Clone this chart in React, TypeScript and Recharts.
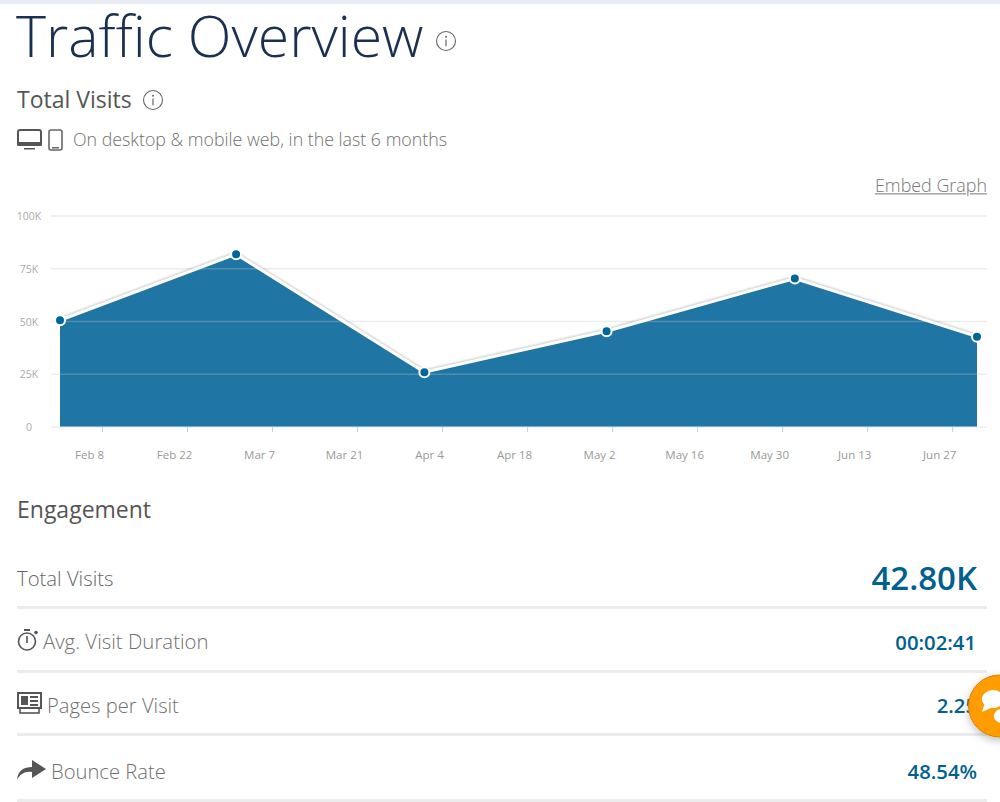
import React from "react";
import { ComposedChart, Area, Line, XAxis, YAxis, ReferenceLine } from "recharts";

const monthDays = [0, 29, 60, 90, 121, 151];
const visits = [50600, 81900, 26000, 45400, 70400, 42800];
const tickDays = [7, 21, 35, 49, 63, 77, 91, 105, 119, 133, 147];
const tickLabels = ["Feb 8", "Feb 22", "Mar 7", "Mar 21", "Apr 4", "Apr 18", "May 2", "May 16", "May 30", "Jun 13", "Jun 27"];
const yTicks = [0, 25000, 50000, 75000, 100000];
const yLabels = ["0", "25K", "50K", "75K", "100K"];

const rows = monthDays.map((day, i) => ({ day, visits: visits[i] }));
const FONT = '"Open Sans", sans-serif';

const XTick = (p: any) => {
  const i = tickDays.indexOf(p.payload.value);
  return (
    <text x={p.x - 13} y={p.y + 25} textAnchor="middle" fontFamily={FONT} fontSize={11.5} fill="#999">
      {tickLabels[i]}
    </text>
  );
};
const YTick = (p: any) => {
  const i = yTicks.indexOf(p.payload.value);
  return (
    <text x={29} y={p.y + 4} textAnchor="middle" fontFamily={FONT} fontSize={10.5} fill="#aaa">
      {yLabels[i]}
    </text>
  );
};

const T = ({ x, y, size, color, weight = 300, right, under, children }: any) => (
  <div
    style={{
      position: "absolute",
      ...(right !== undefined ? { right: 1000 - right } : { left: x }),
      top: y,
      transform: "translateY(-50%)",
      fontFamily: FONT,
      fontSize: size,
      color,
      fontWeight: weight,
      lineHeight: 1.3,
      whiteSpace: "nowrap",
      textDecoration: under ? "underline" : "none",
    }}
  >
    {children}
  </div>
);

const Info = ({ x, y, r }: any) => (
  <svg style={{ position: "absolute", left: x - r - 1, top: y - r - 1 }} width={2 * r + 2} height={2 * r + 2}>
    <circle cx={r + 1} cy={r + 1} r={r - 0.5} fill="none" stroke="#666" strokeWidth={1.1} />
    <circle cx={r + 1} cy={r + 1 - r * 0.42} r={1} fill="#666" />
    <rect x={r + 0.4} y={r + 1 - r * 0.15} width={1.2} height={r * 0.68} fill="#666" />
  </svg>
);

const Sep = ({ y }: any) => (
  <div style={{ position: "absolute", left: 17, width: 970, top: y - 1.5, height: 3, background: "#ececec" }} />
);

export default function App() {
  return (
    <div style={{ position: "absolute", left: 0, top: 0, width: 1000, height: 802, background: "#fff", overflow: "hidden" }}>
      <div style={{ position: "absolute", left: 0, top: 0, width: 1000, height: 4, background: "#e9ecf3" }} />
      <T x={16} y={35} size={57.2} color="#1b3050">Traffic Overview</T>
      <Info x={446} y={41} r={10} />
      <T x={17} y={100} size={23} color="#555" weight={400}>Total Visits</T>
      <Info x={153} y={100} r={10} />

      <svg style={{ position: "absolute", left: 17, top: 128 }} width={48} height={24}>
        <rect x={1} y={2} width={23} height={15} rx={2} fill="none" stroke="#555" strokeWidth={2} />
        <rect x={0} y={14} width={25} height={4} rx={1} fill="#555" />
        <rect x={7} y={20} width={11} height={1.5} fill="#555" />
        <rect x={32} y={2} width={13} height={20} rx={2} fill="none" stroke="#666" strokeWidth={1.6} />
        <rect x={35} y={19} width={7} height={1.5} fill="#666" />
      </svg>
      <T x={73} y={140} size={17.8} color="#707070">On desktop &amp; mobile web, in the last 6 months</T>
      <T right={987} y={186} size={17.9} color="#777" under>Embed Graph</T>

      <div style={{ position: "absolute", left: 0, top: 190 }}>
        <ComposedChart width={1000} height={280} data={rows} margin={{ top: 26, right: 13, bottom: 0, left: 0 }}>
          <XAxis
            dataKey="day"
            type="number"
            domain={[0, 151]}
            ticks={tickDays}
            padding={{ left: 9, right: 10 }}
            height={43}
            tick={<XTick />}
            tickSize={5}
            tickLine={{ stroke: "#c0d0e0" }}
            axisLine={{ stroke: "#e6e6e6" }}
            interval={0}
          />
          <YAxis
            type="number"
            domain={[0, 100000]}
            ticks={yTicks}
            width={51}
            tick={<YTick />}
            tickLine={false}
            axisLine={false}
            interval={0}
          />
          <Area dataKey="visits" type="linear" fill="#1f76a4" fillOpacity={1} stroke="none" isAnimationActive={false} dot={false} activeDot={false} />
          {yTicks.slice(1).map((t) => (
            <ReferenceLine key={t} y={t} stroke="rgba(190,198,205,0.3)" strokeWidth={1.5} />
          ))}
          <Line
            dataKey="visits"
            type="linear"
            stroke="#fff"
            strokeWidth={3}
            isAnimationActive={false}
            style={{ filter: "drop-shadow(0px -1px 1px rgba(0,0,0,0.22))" }}
            dot={false}
            activeDot={false}
            legendType="none"
          />
          <Line
            dataKey="visits"
            type="linear"
            stroke="none"
            isAnimationActive={false}
            dot={{ r: 5, fill: "#00669a", stroke: "#fff", strokeWidth: 2 }}
            activeDot={false}
            legendType="none"
          />
        </ComposedChart>
      </div>

      <T x={17} y={510} size={23} color="#555" weight={400}>Engagement</T>
      <T x={17} y={578} size={20.3} color="#666">Total Visits</T>
      <T right={977} y={578} size={33} color="#00608f" weight={600}>42.80K</T>
      <Sep y={607} />

      <svg style={{ position: "absolute", left: 16, top: 628 }} width={24} height={24}>
        <circle cx={11} cy={13.5} r={8.5} fill="none" stroke="#555" strokeWidth={1.6} />
        <rect x={8} y={1} width={6} height={2} fill="#555" />
        <rect x={10.2} y={8} width={1.6} height={7} fill="#555" />
        <circle cx={20} cy={4.5} r={1.8} fill="#555" />
      </svg>
      <T x={43} y={641} size={20.4} color="#707070">Avg. Visit Duration</T>
      <T right={976} y={642} size={20.3} color="#00608f" weight={600}>00:02:41</T>
      <Sep y={671} />

      <svg style={{ position: "absolute", left: 17, top: 692 }} width={26} height={24}>
        <rect x={1} y={1} width={23} height={15} fill="none" stroke="#555" strokeWidth={2} />
        <rect x={4} y={4} width={7} height={9} fill="#555" />
        <rect x={13} y={4} width={8} height={2} fill="#555" />
        <rect x={13} y={8} width={8} height={2} fill="#555" />
        <rect x={13} y={12} width={8} height={2} fill="#555" />
        <rect x={3} y={16} width={19} height={5} fill="none" stroke="#555" strokeWidth={1.6} />
      </svg>
      <T x={47} y={705} size={20.2} color="#707070">Pages per Visit</T>
      <T right={977} y={705} size={20.3} color="#00608f" weight={600}>2.25</T>
      <Sep y={734} />

      <svg style={{ position: "absolute", left: 17, top: 758 }} width={30} height={24}>
        <path d="M0 22 C1 12 7 9 15 9 L15 2 L29 11 L15 20 L15 14 C8 13 3 16 0 22 Z" fill="#555" />
      </svg>
      <T x={51} y={771} size={20.2} color="#707070">Bounce Rate</T>
      <T right={977} y={771} size={20.3} color="#00608f" weight={600}>48.54%</T>
      <Sep y={800} />

      <svg style={{ position: "absolute", left: 945, top: 662 }} width={55} height={92}>
        <defs>
          <filter id="chatShadow" x="-30%" y="-30%" width="160%" height="170%">
            <feDropShadow dx={0} dy={3} stdDeviation={4} floodColor="#000" floodOpacity={0.25} />
          </filter>
        </defs>
        <circle cx={54.5} cy={44} r={31} fill="#ff9c00" stroke="#d4820e" strokeWidth={1} filter="url(#chatShadow)" />
        <ellipse cx={48} cy={37} rx={11} ry={9} fill="#fff" />
        <path d="M40 40 L37 50 L50 44 Z" fill="#fff" />
        <ellipse cx={58} cy={54} rx={10} ry={8} fill="#fff" stroke="#ff9c00" strokeWidth={1.5} />
      </svg>
    </div>
  );
}
